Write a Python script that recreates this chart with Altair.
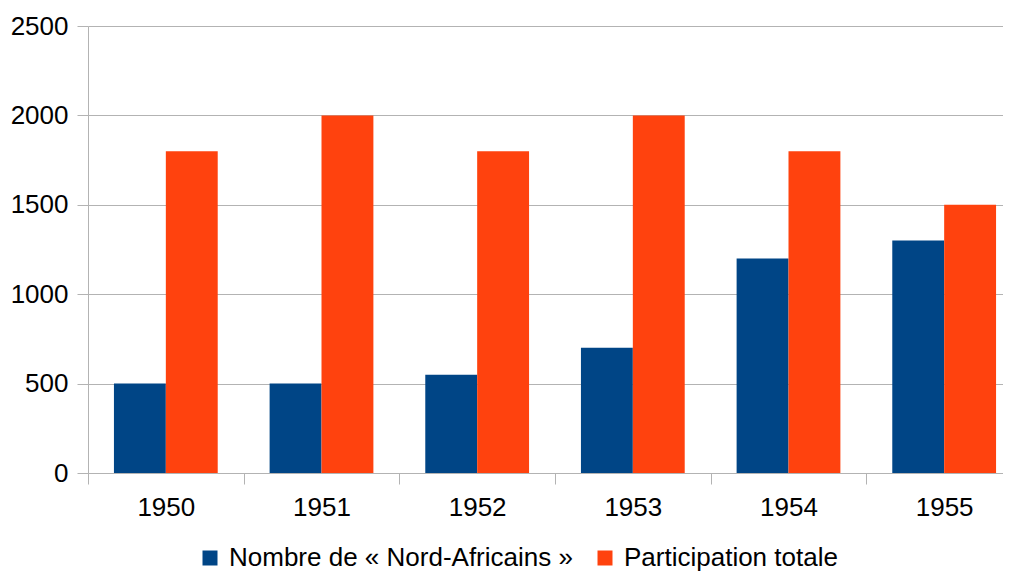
import altair as alt
import pandas as pd

years = ["1950", "1951", "1952", "1953", "1954", "1955"]
series = ["Nombre de « Nord-Africains »", "Participation totale"]
nord_africains = [500, 500, 550, 700, 1200, 1300]
participation = [1800, 2000, 1800, 2000, 1800, 1500]
colors = ["#004586", "#ff420e"]
y_ticks = [0, 500, 1000, 1500, 2000, 2500]

rows = []
for i, y in enumerate(years):
    rows.append({"year": y, "series": series[0], "value": nord_africains[i]})
    rows.append({"year": y, "series": series[1], "value": participation[i]})
df = pd.DataFrame(rows)

FONT = "Liberation Sans"
GRID = "#b3b3b3"

chart = alt.Chart(df).mark_bar().encode(
    x=alt.X("year:N", sort=years,
            scale=alt.Scale(range=[0, 934], paddingInner=0, paddingOuter=0),
            axis=alt.Axis(title=None, labelAngle=0, tickBand="extent", tickSize=11,
                          tickColor=GRID, domainColor=GRID, labelPadding=10,
                          labelFontSize=26, labelColor="#000000", labelFont=FONT,
                          grid=False)),
    xOffset=alt.XOffset("series:N", sort=series,
                        scale=alt.Scale(domain=series, paddingInner=0, paddingOuter=0.5)),
    y=alt.Y("value:Q",
            scale=alt.Scale(domain=[0, 2500], nice=False),
            axis=alt.Axis(title=None, values=y_ticks, format="d", tickSize=11, tickColor=GRID,
                          domainColor=GRID, gridColor=GRID, labelPadding=9,
                          labelFontSize=26, labelColor="#000000", labelFont=FONT)),
    color=alt.Color("series:N", sort=series,
                    scale=alt.Scale(domain=series, range=colors),
                    legend=alt.Legend(title=None, orient="none", legendX=109, legendY=519,
                                      direction="horizontal", symbolType="square",
                                      symbolSize=225, symbolStrokeWidth=0,
                                      labelFontSize=26, labelFont=FONT, labelColor="#000000",
                                      labelOffset=6, columnPadding=19, padding=0,
                                      labelLimit=0)),
).properties(
    width=915,
    height=447,
    padding={"left": 80, "top": 18, "right": 0, "bottom": 101},
    autosize=alt.AutoSizeParams(type="none"),
).configure_view(stroke=None)

chart.save("out.html", embed_options={"renderer": "svg", "actions": False})
